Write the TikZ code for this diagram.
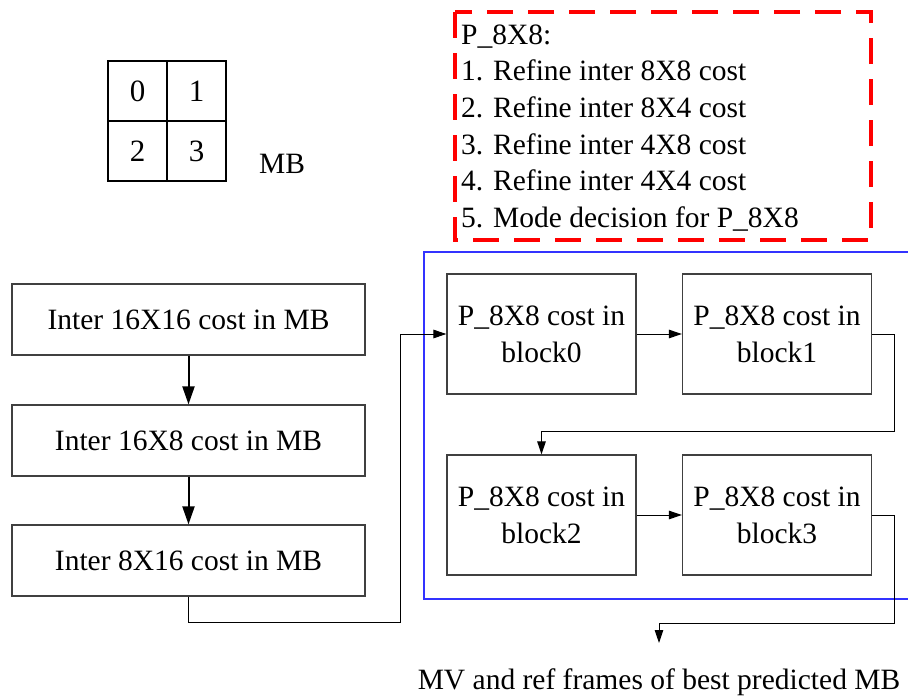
\documentclass[tikz,border=0pt]{standalone}
\usepackage{fontspec}
\setmainfont{Liberation Serif}
\usetikzlibrary{arrows.meta}
\begin{document}
\begin{tikzpicture}[x=1pt,y=-1pt,
  every node/.style={font=\fontsize{29.5}{36.7}\selectfont, inner sep=0pt},
  stagebox/.style={draw=black!75, line width=1.2pt, minimum width=353pt, minimum height=71pt},
  blockbox/.style={draw=black!75, line width=1.2pt, minimum width=189pt, minimum height=120pt, align=center},
  flow/.style={draw=black, line width=1pt, -{Triangle[length=13pt,width=8.5pt]}},
  bigflow/.style={draw=black, line width=2pt, -{Triangle[length=18pt,width=12pt]}},
  cell/.style={draw=black, line width=1.1pt, minimum width=59pt, minimum height=60pt, font=\fontsize{31}{36}\selectfont},
  listline/.style={anchor=base west}
]
\useasboundingbox (0,0) rectangle (908,699);

% macroblock partition into four 8x8 blocks
\node[cell] (c0) at (137.5,91) {0};
\node[cell] (c1) at (196.5,91) {1};
\node[cell] (c2) at (137.5,151) {2};
\node[cell] (c3) at (196.5,151) {3};
\node (mb) at (282,164) {MB};

% P_8X8 sub-steps
\draw[red, line width=3.5pt, dash pattern=on 26pt off 15pt] (455,12) rectangle (871,240);
\node[listline] (l0) at (461,44)  {P\_8X8:};
\node[listline] (l1) at (461,80.7)  {1. Refine inter 8X8 cost};
\node[listline] (l2) at (461,117.4) {2. Refine inter 8X4 cost};
\node[listline] (l3) at (461,154.1) {3. Refine inter 4X8 cost};
\node[listline] (l4) at (461,190.8) {4. Refine inter 4X4 cost};
\node[listline] (l5) at (461,227.5) {5. Mode decision for P\_8X8};

% whole-MB partitions
\node[stagebox] (s1) at (188.5,319.5) {Inter 16X16 cost in MB};
\node[stagebox] (s2) at (188.5,440.5) {Inter 16X8 cost in MB};
\node[stagebox] (s3) at (188.5,560.5) {Inter 8X16 cost in MB};
\draw[bigflow] (s1) -- (s2);
\draw[bigflow] (s2) -- (s3);

% P_8X8 group frame
\draw[blue!80!white, line width=1.1pt] (424,252) rectangle (916,599);

\node[blockbox] (b0) at (541.5,334) {P\_8X8 cost in\\block0};
\node[blockbox] (b1) at (777,334)   {P\_8X8 cost in\\block1};
\node[blockbox] (b2) at (541.5,515) {P\_8X8 cost in\\block2};
\node[blockbox] (b3) at (777,515)   {P\_8X8 cost in\\block3};

\coordinate (j1) at (400,622);
\coordinate (j2) at (894,431);
\coordinate (j3) at (894,623);
\coordinate (out) at (659,643);

\draw[flow] (s3.south) |- (j1) |- (b0.west);
\draw[flow] (b0) -- (b1);
\draw[flow] (b1.east) -| (j2) -| (b2.north);
\draw[flow] (b2) -- (b3);
\draw[flow] (b3.east) -| (j3) -| (out);

\node (res) at (659,682) {MV and ref frames of best predicted MB};
\end{tikzpicture}
\end{document}
